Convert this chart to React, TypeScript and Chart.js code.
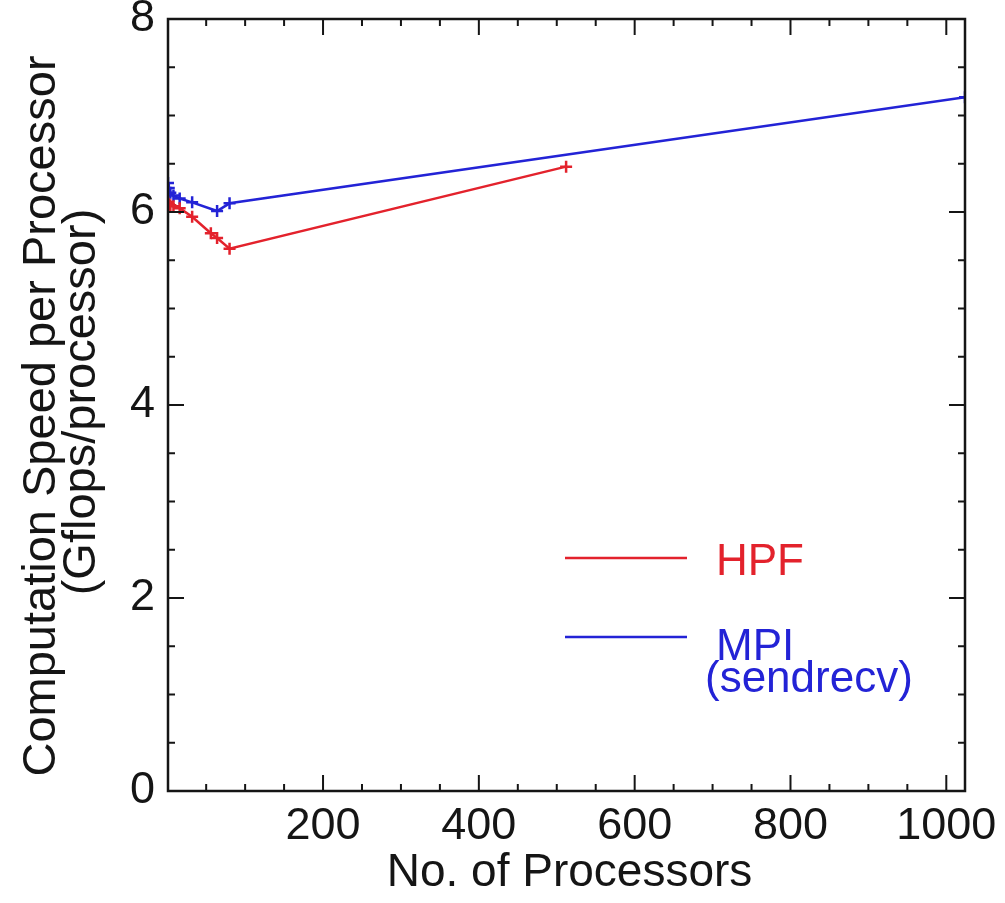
import React, { useEffect, useRef } from 'react';
import { Chart, registerables } from 'chart.js';

Chart.register(...registerables);

// ---- data ----
const hpfProcs = [1, 2, 4, 8, 16, 32, 56, 64, 80, 512];
const hpfSpeed = [6.1, 6.08, 6.07, 6.06, 6.04, 5.95, 5.78, 5.73, 5.62, 6.47];
const mpiProcs = [1, 2, 4, 8, 16, 32, 64, 80, 1024];
const mpiSpeed = [6.3, 6.25, 6.2, 6.17, 6.14, 6.1, 6.01, 6.09, 7.19];
const xTickLabels = [200, 400, 600, 800, 1000];
const yTickLabels = [0, 2, 4, 6, 8];
const xRange = [1, 1024];
const yRange = [0, 8];
const xMinorStep = 50;
const yMinorStep = 0.5;
const xTitle = 'No. of Processors';
const yTitleLines = ['Computation Speed per Processor', '(Gflops/processor)'];
const seriesNames = ['HPF', 'MPI'];
const mpiNote = '(sendrecv)';

const RED = '#e3222c';
const BLUE = '#2323d6';
const INK = '#151515';
const FONT = "'Liberation Sans', Arial, Helvetica, sans-serif";

const framePlugin = {
  id: 'idlFrame',
  afterDraw(chart: any) {
    const ctx = chart.ctx as CanvasRenderingContext2D;
    const { left, right, top, bottom } = chart.chartArea;
    const xs = chart.scales.x;
    const ys = chart.scales.y;
    ctx.save();
    // box
    ctx.strokeStyle = INK;
    ctx.lineWidth = 2.5;
    ctx.strokeRect(left, top, right - left, bottom - top);
    // x ticks
    ctx.lineWidth = 2;
    for (let v = xMinorStep; v <= xRange[1]; v += xMinorStep) {
      const px = xs.getPixelForValue(v);
      const len = v % 200 === 0 ? 16 : 7;
      ctx.beginPath();
      ctx.moveTo(px, bottom);
      ctx.lineTo(px, bottom - len);
      ctx.moveTo(px, top);
      ctx.lineTo(px, top + len);
      ctx.stroke();
    }
    for (let v = yRange[0] + yMinorStep; v < yRange[1]; v += yMinorStep) {
      const py = ys.getPixelForValue(v);
      const len = v % 2 === 0 ? 16 : 7;
      ctx.beginPath();
      ctx.moveTo(left, py);
      ctx.lineTo(left + len, py);
      ctx.moveTo(right, py);
      ctx.lineTo(right - len, py);
      ctx.stroke();
    }
    // titles
    ctx.fillStyle = INK;
    ctx.font = `46px ${FONT}`;
    ctx.textAlign = 'center';
    ctx.textBaseline = 'alphabetic';
    ctx.fillText(xTitle, (left + right) / 2 + 3, 886);
    ctx.font = `47px ${FONT}`;
    ctx.save();
    ctx.translate(55, 416);
    ctx.rotate(-Math.PI / 2);
    ctx.fillText(yTitleLines[0], 0, 0);
    ctx.restore();
    ctx.save();
    ctx.translate(95, 402);
    ctx.rotate(-Math.PI / 2);
    ctx.fillText(yTitleLines[1], 0, 0);
    ctx.restore();
    // legend
    ctx.lineWidth = 2.5;
    ctx.textAlign = 'left';
    ctx.font = `44px ${FONT}`;
    ctx.strokeStyle = RED;
    ctx.beginPath();
    ctx.moveTo(565, 558);
    ctx.lineTo(687, 558);
    ctx.stroke();
    ctx.fillStyle = RED;
    ctx.fillText(seriesNames[0], 716, 575);
    ctx.strokeStyle = BLUE;
    ctx.beginPath();
    ctx.moveTo(565, 637);
    ctx.lineTo(687, 637);
    ctx.stroke();
    ctx.fillStyle = BLUE;
    ctx.fillText(seriesNames[1], 716, 660);
    ctx.fillText(mpiNote, 705, 692);
    ctx.restore();
  },
};

export default function App() {
  const ref = useRef<HTMLCanvasElement | null>(null);
  useEffect(() => {
    if (!ref.current) return;
    const pts = (xs: number[], ys: number[]) => xs.map((x, i) => ({ x, y: ys[i] }));
    const chart = new Chart(ref.current, {
      type: 'scatter',
      data: {
        datasets: [
          {
            label: seriesNames[0],
            data: pts(hpfProcs, hpfSpeed),
            showLine: true,
            borderColor: RED,
            backgroundColor: RED,
            borderWidth: 2.5,
            pointStyle: 'cross',
            pointRadius: 6,
            pointBorderWidth: 2.5,
          },
          {
            label: seriesNames[1],
            data: pts(mpiProcs, mpiSpeed),
            showLine: true,
            borderColor: BLUE,
            backgroundColor: BLUE,
            borderWidth: 2.5,
            pointStyle: 'cross',
            pointRadius: 6,
            pointBorderWidth: 2.5,
          },
        ],
      },
      options: {
        animation: false,
        responsive: true,
        maintainAspectRatio: false,
        layout: { padding: { top: 19, right: 40, left: 0, bottom: 0 } },
        plugins: { legend: { display: false }, tooltip: { enabled: false } },
        scales: {
          x: {
            type: 'linear',
            min: xRange[0],
            max: xRange[1],
            grid: { display: false, drawTicks: false },
            border: { display: false },
            ticks: {
              color: INK,
              font: { family: FONT, size: 45 },
              padding: 9,
              maxRotation: 0,
              autoSkip: false,
              callback: (v: any) => String(v),
            },
            afterBuildTicks: (s: any) => {
              s.ticks = xTickLabels.map((v) => ({ value: v }));
            },
            afterFit: (s: any) => {
              s.height = 112;
              s.paddingLeft = 0;
              s.paddingRight = 0;
            },
          },
          y: {
            type: 'linear',
            min: yRange[0],
            max: yRange[1],
            grid: { display: false, drawTicks: false },
            border: { display: false },
            ticks: {
              color: INK,
              font: { family: FONT, size: 45 },
              padding: 13,
              autoSkip: false,
              callback: (v: any) => String(v),
            },
            afterBuildTicks: (s: any) => {
              s.ticks = yTickLabels.map((v) => ({ value: v }));
            },
            afterFit: (s: any) => {
              s.width = 168;
              s.paddingTop = 0;
              s.paddingBottom = 0;
            },
          },
        },
      },
      plugins: [framePlugin],
    });
    return () => chart.destroy();
  }, []);
  return (
    <div style={{ position: 'absolute', left: 0, top: 0, width: 1005, height: 903, background: '#fff' }}>
      <canvas ref={ref} />
    </div>
  );
}
